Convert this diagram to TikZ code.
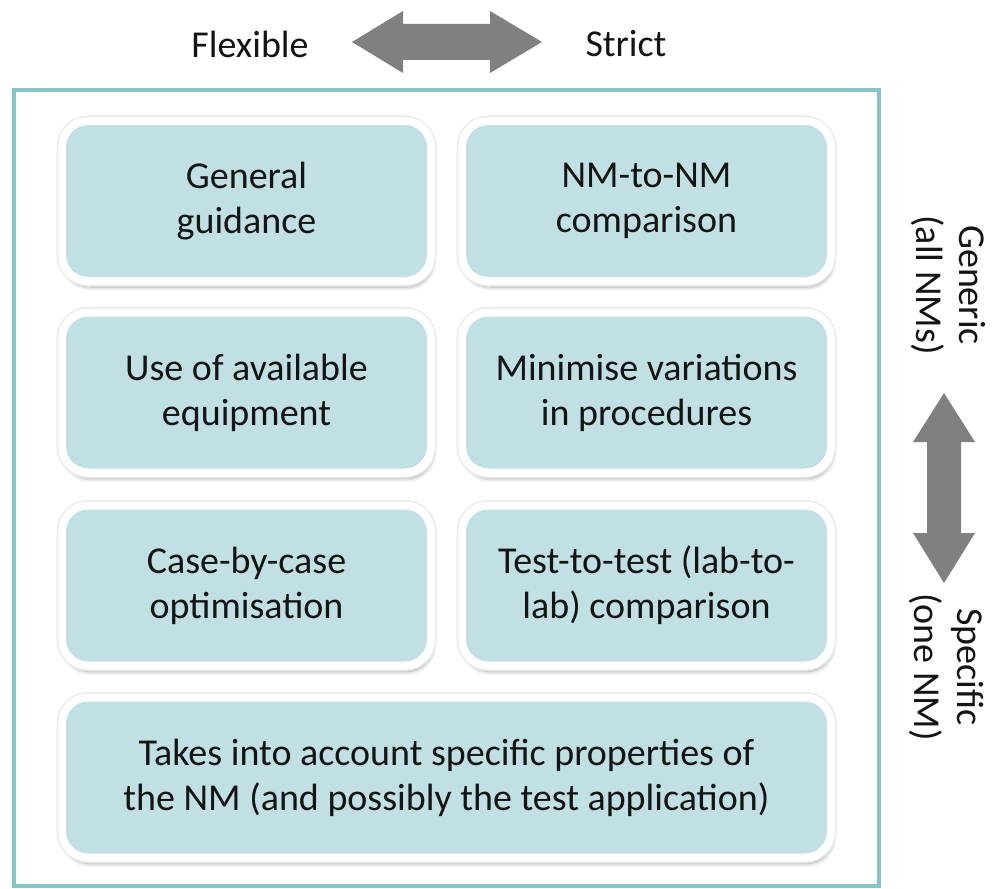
\documentclass[tikz,border=0pt]{standalone}
\usepackage{fontspec}
\setmainfont{Carlito}
\usetikzlibrary{shadows.blur}

\definecolor{cardfill}{RGB}{193,224,228}
\definecolor{framecol}{RGB}{134,196,204}
\definecolor{arrowgray}{RGB}{128,128,128}
\definecolor{inkcol}{RGB}{20,20,20}
\definecolor{halo}{RGB}{232,234,234}

\tikzset{
  card/.style={
    rectangle, rounded corners=26pt, fill=cardfill, draw=white, line width=8pt,
    minimum height=160pt, inner sep=0pt, align=center, text=inkcol,
    font=\fontsize{38}{45}\selectfont,
    blur shadow={shadow xshift=2pt, shadow yshift=-6pt, shadow blur radius=4pt,
                 shadow blur steps=8, shadow opacity=35},
    preaction={draw=halo, line width=11pt}
  },
  halfcard/.style={card, minimum width=369pt},
  fullcard/.style={card, minimum width=769pt},
  label/.style={inner sep=0pt, align=center, text=inkcol,
    font=\fontsize{38}{43}\selectfont},
  bigarrow/.style={fill=arrowgray}
}

\begin{document}
\begin{tikzpicture}[x=1pt, y=-1pt]
  \useasboundingbox (0,0) rectangle (992,888);

  % outer frame
  \draw[framecol, line width=4pt] (14,90) rectangle (879,886);

  % axis labels
  \node[label] (flex)   at (250,44) {Flexible};
  \node[label] (strict) at (626,44) {Strict};
  \node[label, rotate=-90] (generic)  at (948,285) {Generic\\(all NMs)};
  \node[label, rotate=-90] (specific) at (946,667) {Specific\\(one NM)};

  % double-headed arrows
  \fill[bigarrow] (352,42) -- (403,11) -- (403,24) -- (490,24) -- (490,11)
        -- (542,42) -- (490,73) -- (490,60) -- (403,60) -- (403,73) -- cycle;
  \fill[bigarrow] (944,393) -- (975,442) -- (961,442) -- (961,533) -- (975,533)
        -- (944,583) -- (913,533) -- (927,533) -- (927,442) -- (913,442) -- cycle;

  % cards
  \node[halfcard] (guid)  at (246.5,201)   {General\\guidance};
  \node[halfcard] (nmnm)  at (646.5,201)   {NM-to-NM\\comparison};
  \node[halfcard] (equip) at (246.5,392.5) {Use of available\\equipment};
  \node[halfcard] (minim) at (646.5,392.5) {Minimise variations\\in procedures};
  \node[halfcard] (case)  at (246.5,585.5) {Case-by-case\\optimisation};
  \node[halfcard] (test)  at (646.5,585.5) {Test-to-test (lab-to-\\lab) comparison};
  \node[fullcard] (props) at (446.5,777.5)
    {Takes into account specific properties of\\the NM (and possibly the test application)};
\end{tikzpicture}
\end{document}
